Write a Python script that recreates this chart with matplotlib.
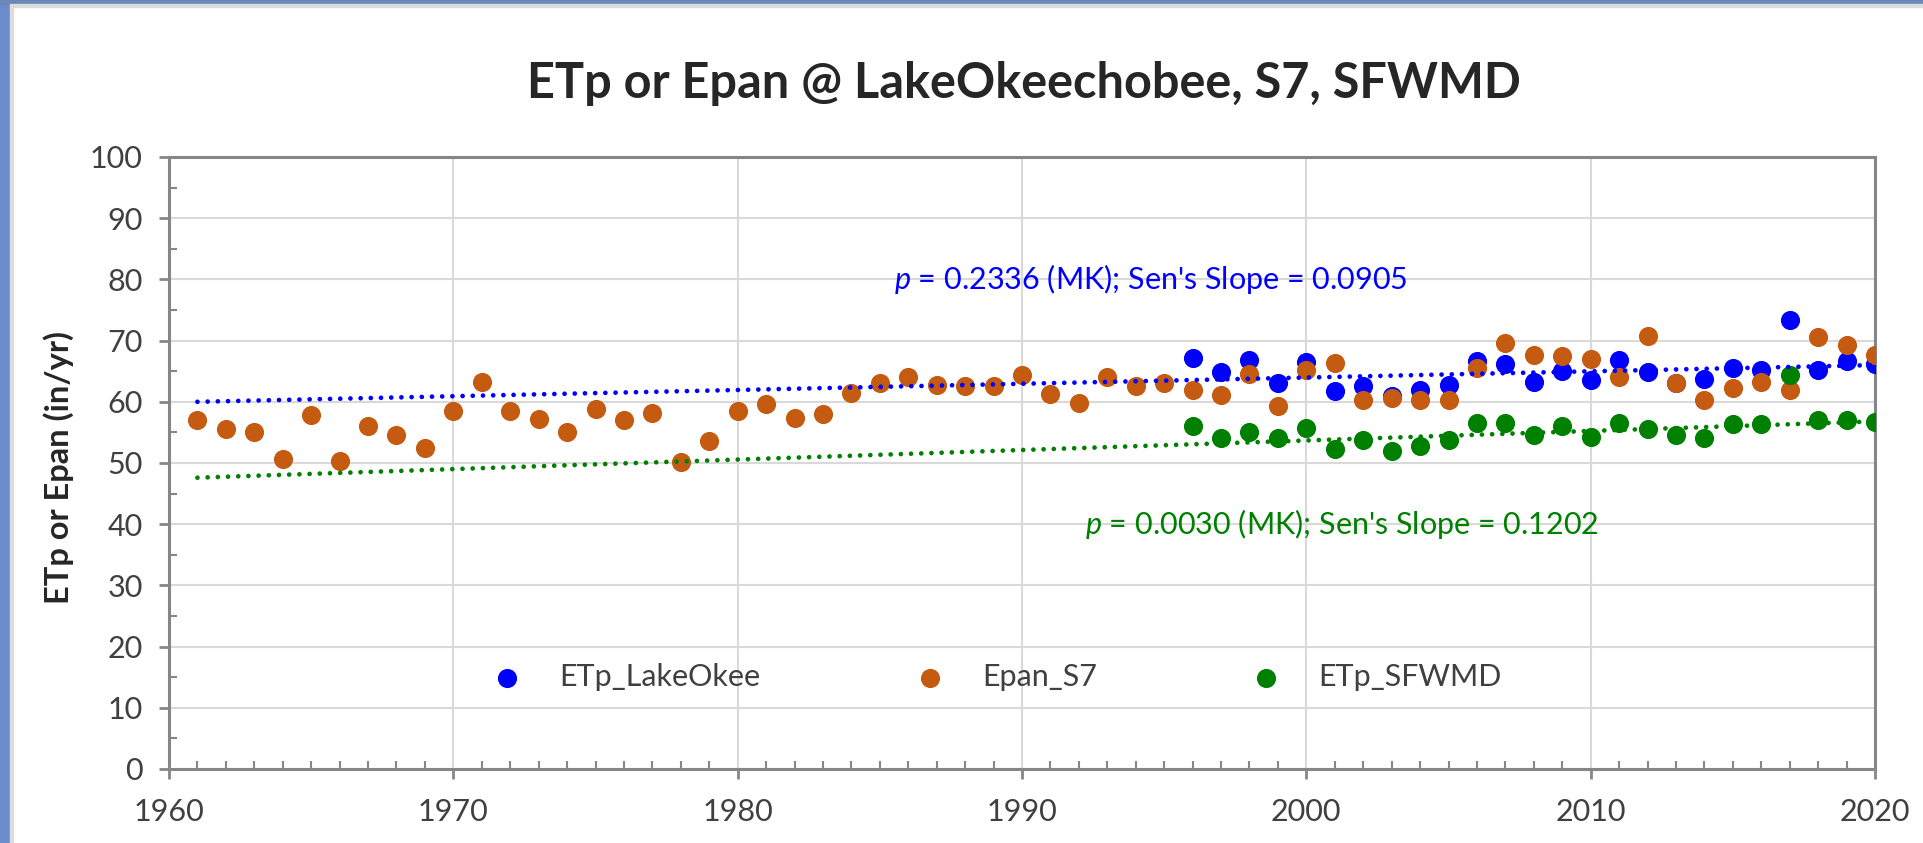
import matplotlib.pyplot as plt
from matplotlib.patches import Rectangle
from matplotlib.ticker import MultipleLocator

plt.rcParams['font.family'] = ['Lato', 'DejaVu Sans']
plt.rcParams['mathtext.fontset'] = 'custom'
plt.rcParams['mathtext.it'] = 'Lato:italic'
plt.rcParams['mathtext.rm'] = 'Lato'

# Epan at S7, 1961-2020
years_s7 = list(range(1961, 2021))
epan_s7 = [57.0, 55.6, 55.1, 50.7, 57.8, 50.4, 56.0, 54.6, 52.5, 58.5,
           63.3, 58.5, 57.2, 55.1, 58.8, 57.0, 58.1, 50.2, 53.6, 58.5,
           59.6, 57.3, 58.0, 61.4, 63.1, 64.1, 62.8, 62.6, 62.6, 64.4,
           61.2, 59.8, 64.1, 62.6, 63.1, 62.0, 61.1, 64.6, 59.3, 65.2,
           66.4, 60.3, 60.6, 60.3, 60.3, 65.5, 69.6, 67.7, 67.5, 67.0,
           64.0, 70.8, 63.0, 60.3, 62.2, 63.2, 62.0, 70.6, 69.2, 67.7]

# ETp series, 1996-2020
years_etp = list(range(1996, 2021))
etp_lakeokee = [67.2, 64.8, 66.9, 63.1, 66.5, 61.7, 62.6, 60.9, 62.0, 62.8,
                66.6, 66.2, 63.2, 65.0, 63.6, 66.9, 64.9, 63.0, 63.8, 65.6,
                65.2, 73.3, 65.2, 66.6, 66.1]
etp_sfwmd = [56.0, 54.1, 55.1, 54.1, 55.8, 52.3, 53.8, 51.9, 52.8, 53.8,
             56.6, 56.6, 54.6, 56.0, 54.2, 56.6, 55.5, 54.6, 54.1, 56.3,
             56.3, 64.3, 57.0, 57.0, 56.7]

# trend lines (end points)
trend_years = [1961, 2020]
trend_okee = [60.0, 66.0]
trend_sfwmd = [47.6, 56.8]

c_blue = '#0000FF'
c_orange = '#C55A11'
c_green = '#008000'
c_axis = '#868686'

W, H = 1923, 843
fig = plt.figure(figsize=(W / 100, H / 100), dpi=100)

# slide background strips at top and left
fig.patches.append(Rectangle((0, 0), 10 / W, 1, transform=fig.transFigure, color='#6A8CCB', zorder=0))
fig.patches.append(Rectangle((10 / W, 0), 3 / W, 1 - 4 / H, transform=fig.transFigure, color='#DCDCDC', zorder=0))
fig.patches.append(Rectangle((0, 1 - 4 / H), 1, 4 / H, transform=fig.transFigure, color='#6C88B8', zorder=0))
fig.patches.append(Rectangle((10 / W, 1 - 7 / H), 1, 3 / H, transform=fig.transFigure, color='#DCDCDC', zorder=0))

ax = fig.add_axes([169 / W, 1 - 769 / H, (1875 - 169) / W, (769 - 157) / H])

ms = 190
ax.scatter(years_etp, etp_lakeokee, s=ms, color=c_blue, label='ETp_LakeOkee', zorder=3, linewidths=0)
ax.scatter(years_s7, epan_s7, s=ms, color=c_orange, label='Epan_S7', zorder=3, linewidths=0)
ax.scatter(years_etp, etp_sfwmd, s=ms, color=c_green, label='ETp_SFWMD', zorder=3, linewidths=0)

ax.plot(trend_years, trend_okee, color=c_blue, lw=3.4, linestyle=(0, (0.01, 2.15)),
        dash_capstyle='round', zorder=4)
ax.plot(trend_years, trend_sfwmd, color=c_green, lw=3.4, linestyle=(0, (0.01, 2.15)),
        dash_capstyle='round', zorder=4)

ax.text(1985.5, 80, "$p$ = 0.2336 (MK); Sen's Slope = 0.0905", color=c_blue,
        fontsize=22, ha='left', va='center', zorder=5)
ax.text(1992.2, 40, "$p$ = 0.0030 (MK); Sen's Slope = 0.1202", color=c_green,
        fontsize=22, ha='left', va='center', zorder=5)

ax.set_xlim(1960, 2020)
ax.set_ylim(0, 100)
ax.xaxis.set_major_locator(MultipleLocator(10))
ax.xaxis.set_minor_locator(MultipleLocator(1))
ax.yaxis.set_major_locator(MultipleLocator(10))
ax.yaxis.set_minor_locator(MultipleLocator(5))

ax.grid(True, which='major', color='#D9D9D9', lw=1.5, zorder=0)
ax.set_axisbelow(True)
for s in ax.spines.values():
    s.set_color(c_axis)
    s.set_linewidth(2.2)

ax.tick_params(which='major', direction='out', length=7, width=2, color=c_axis,
               labelsize=22, labelcolor='#404040', pad=12)
ax.tick_params(axis='x', which='major', pad=14)
ax.tick_params(which='minor', direction='in', length=6, width=1.5, color=c_axis)
ax.tick_params(axis='x', which='minor', top=False)
ax.tick_params(axis='y', which='minor', right=False)

ax.set_ylabel('ETp or Epan (in/yr)', fontsize=23.5, fontweight='bold', color='#262626')
ax.yaxis.set_label_coords(-0.0557, 0.492)

fig.text(0.5325, 0.9015, 'ETp or Epan @ LakeOkeechobee, S7, SFWMD', fontsize=35,
         fontweight='bold', color='#262626', ha='center', va='center')

ax.legend(loc='center left', bbox_to_anchor=((492 - 169) / 1706, 0.15), ncol=3,
          frameon=False, fontsize=22, handlelength=1.0, handletextpad=1.2,
          columnspacing=5.05, borderpad=0, borderaxespad=0,
          scatterpoints=1, labelcolor='#404040')

fig.savefig('out.png', dpi=100, facecolor='white')
